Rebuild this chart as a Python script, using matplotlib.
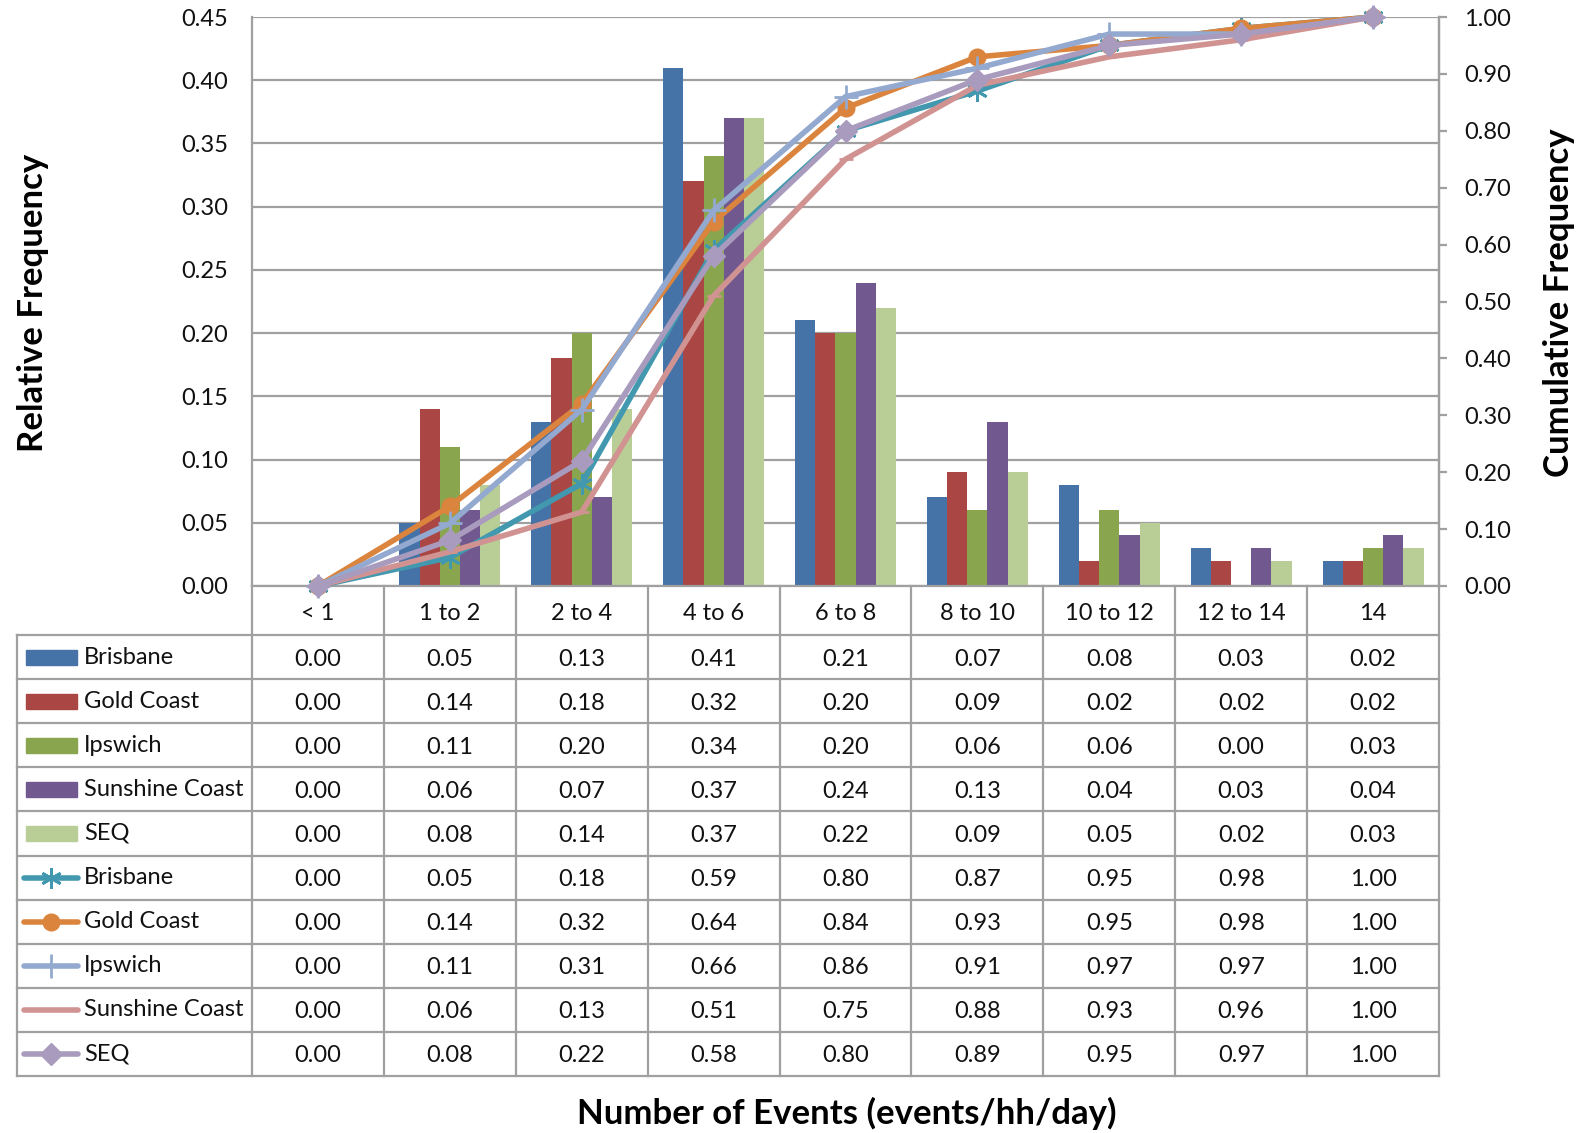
import matplotlib
matplotlib.use('Agg')
import matplotlib.pyplot as plt
from matplotlib.patches import Rectangle
from matplotlib.lines import Line2D
import numpy as np

plt.rcParams['font.family'] = ['Lato', 'DejaVu Sans']

categories = ['< 1', '1 to 2', '2 to 4', '4 to 6', '6 to 8', '8 to 10', '10 to 12', '12 to 14', '14']
regions = ['Brisbane', 'Gold Coast', 'Ipswich', 'Sunshine Coast', 'SEQ']

# relative frequency (bars)
rel_brisbane = [0.00, 0.05, 0.13, 0.41, 0.21, 0.07, 0.08, 0.03, 0.02]
rel_gold_coast = [0.00, 0.14, 0.18, 0.32, 0.20, 0.09, 0.02, 0.02, 0.02]
rel_ipswich = [0.00, 0.11, 0.20, 0.34, 0.20, 0.06, 0.06, 0.00, 0.03]
rel_sunshine = [0.00, 0.06, 0.07, 0.37, 0.24, 0.13, 0.04, 0.03, 0.04]
rel_seq = [0.00, 0.08, 0.14, 0.37, 0.22, 0.09, 0.05, 0.02, 0.03]

# cumulative frequency (lines)
cum_brisbane = [0.00, 0.05, 0.18, 0.59, 0.80, 0.87, 0.95, 0.98, 1.00]
cum_gold_coast = [0.00, 0.14, 0.32, 0.64, 0.84, 0.93, 0.95, 0.98, 1.00]
cum_ipswich = [0.00, 0.11, 0.31, 0.66, 0.86, 0.91, 0.97, 0.97, 1.00]
cum_sunshine = [0.00, 0.06, 0.13, 0.51, 0.75, 0.88, 0.93, 0.96, 1.00]
cum_seq = [0.00, 0.08, 0.22, 0.58, 0.80, 0.89, 0.95, 0.97, 1.00]

rel_all = [rel_brisbane, rel_gold_coast, rel_ipswich, rel_sunshine, rel_seq]
cum_all = [cum_brisbane, cum_gold_coast, cum_ipswich, cum_sunshine, cum_seq]

bar_colors = ['#4572A7', '#AA4643', '#89A54E', '#71588F', '#B9CD96']
line_colors = ['#4198AF', '#DB843D', '#93A9CF', '#D19392', '#A99BBD']
markers = [(6, 2, 0), 'o', '+', '_', 'D']
msizes = [15, 12, 17, 10, 11]

W, H = 1585, 1133
L, R, T, B = 252, 1439, 17, 586
pw, ph = R - L, B - T
grid_c = '#A0A0A0'
fs = 17

fig = plt.figure(figsize=(W / 100, H / 100), dpi=100)
ax = fig.add_axes([L / W, 1 - B / H, pw / W, ph / H])
ax2 = ax.twinx()

x = np.arange(len(categories))
bw = 0.153
for k, vals in enumerate(rel_all):
    ax.bar(x + (k - 2) * bw, vals, width=bw, color=bar_colors[k], zorder=2)

for k, vals in enumerate(cum_all):
    ax2.plot(x, vals, color=line_colors[k], lw=4, marker=markers[k],
             markersize=msizes[k], markeredgewidth=2 if k in (0, 2, 3) else 1,
             markeredgecolor=line_colors[k], solid_capstyle='round', clip_on=False)

ax.set_xlim(-0.5, len(categories) - 0.5)
ax.set_ylim(0, 0.45)
ax2.set_ylim(0, 1.0)
ax.set_yticks(np.arange(0, 0.451, 0.05))
ax.set_yticklabels([f'{v:.2f}' for v in np.arange(0, 0.451, 0.05)])
ax2.set_yticks(np.arange(0, 1.001, 0.1))
ax2.set_yticklabels([f'{v:.2f}' for v in np.arange(0, 1.001, 0.1)])
ax.set_xticks([])
ax.set_axisbelow(True)
ax.yaxis.grid(True, color=grid_c, lw=1.6)
ax.tick_params(axis='y', length=0, pad=17, labelsize=fs, colors='#111111')
ax2.tick_params(axis='y', direction='out', length=6, width=1.6, color=grid_c,
                pad=12, labelsize=fs, labelcolor='#111111')
for a in (ax, ax2):
    for s in a.spines.values():
        s.set_color(grid_c)
        s.set_linewidth(1.6)
    a.spines['top'].set_visible(False)
ax2.spines['left'].set_visible(False)
ax2.spines['bottom'].set_visible(False)

# data table below the plot
hdr = 49 / ph
rowh = 44.1 / ph
xl = (17 - L) / pw
nrows = 10
ybot = -hdr - nrows * rowh
tr = ax.transAxes
lk = dict(color=grid_c, lw=1.6, transform=tr, clip_on=False)
for r in range(nrows + 1):
    y = -hdr - r * rowh
    ax.add_line(Line2D([xl, 1], [y, y], **lk))
ax.add_line(Line2D([xl, xl], [-hdr, ybot], **lk))
for i in range(len(categories) + 1):
    xi = i / len(categories)
    ax.add_line(Line2D([xi, xi], [0, ybot], **lk))

for i, c in enumerate(categories):
    ax.text((i + 0.5) / len(categories), -hdr / 2 - 3 / ph, c, transform=tr,
            ha='center', va='center', fontsize=fs, color='#111111')

row_vals = rel_all + cum_all
for r in range(nrows):
    yc = -hdr - (r + 0.5) * rowh
    k = r % 5
    if r < 5:
        ax.add_patch(Rectangle(((26 - L) / pw, yc - 7.5 / ph), 51 / pw, 15 / ph,
                               color=bar_colors[k], transform=tr, clip_on=False))
    else:
        ax.add_line(Line2D([(24 - L) / pw, (78 - L) / pw], [yc, yc], color=line_colors[k],
                           lw=4, solid_capstyle='round', transform=tr, clip_on=False))
        ax.add_line(Line2D([(51 - L) / pw], [yc], color=line_colors[k], marker=markers[k],
                           markersize=msizes[k], markeredgewidth=2 if k in (0, 2, 3) else 1,
                           markeredgecolor=line_colors[k], transform=tr, clip_on=False))
    ax.text((84 - L) / pw, yc, regions[k], transform=tr, ha='left', va='center',
            fontsize=fs, color='#111111')
    for i, v in enumerate(row_vals[r]):
        ax.text((i + 0.5) / len(categories), yc - 2 / ph, f'{v:.2f}', transform=tr,
                ha='center', va='center', fontsize=fs, color='#111111')

fig.text(33 / W, 1 - 303 / H, 'Relative Frequency', rotation=90, ha='center', va='center',
         fontsize=25, fontweight='bold')
fig.text(1559 / W, 1 - 303 / H, 'Cumulative Frequency', rotation=90, ha='center', va='center',
         fontsize=25, fontweight='bold')
fig.text(847 / W, 1 - 1113 / H, 'Number of Events (events/hh/day)', ha='center', va='center',
         fontsize=25, fontweight='bold')

fig.savefig('out.png', dpi=100)
